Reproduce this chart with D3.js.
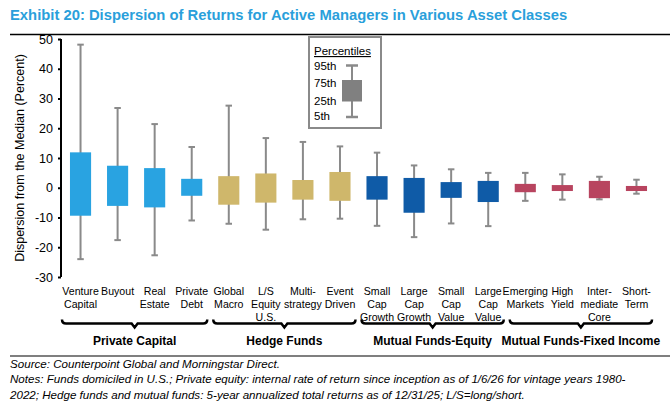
<!DOCTYPE html>
<html><head><meta charset="utf-8">
<script src="https://cdn.jsdelivr.net/npm/d3@7"></script>
<style>body{margin:0;background:#fff;font-family:"Liberation Sans",Arial,sans-serif}</style>
</head><body><svg id="c" width="670" height="402"></svg>
<script>
const categories = ["Venture Capital","Buyout","Real Estate","Private Debt","Global Macro","L/S Equity U.S.","Multi-strategy","Event Driven","Small Cap Growth","Large Cap Growth","Small Cap Value","Large Cap Value","Emerging Markets","High Yield","Intermediate Core","Short-Term"];
const labelLines = [["Venture","Capital"],["Buyout"],["Real","Estate"],["Private","Debt"],["Global","Macro"],["L/S","Equity","U.S."],["Multi-","strategy"],["Event","Driven"],["Small","Cap","Growth"],["Large","Cap","Growth"],["Small","Cap","Value"],["Large","Cap","Value"],["Emerging","Markets"],["High","Yield"],["Inter-","mediate","Core"],["Short-","Term"]];
const p95 = [48.1,26.8,21.4,13.7,27.6,16.7,15.4,13.9,11.8,7.5,6.2,5.0,5.0,4.5,3.7,2.7];
const p75 = [11.9,7.4,6.6,3.0,3.9,4.8,2.6,5.3,3.9,3.3,1.9,2.3,1.3,0.9,2.3,0.6];
const p25 = [-9.4,-6.1,-6.6,-2.7,-5.7,-5.0,-4.0,-4.4,-4.0,-8.4,-3.4,-4.8,-1.5,-1.1,-3.5,-1.1];
const p5  = [-24.0,-17.6,-22.7,-11.0,-12.1,-14.1,-10.6,-10.4,-12.8,-16.6,-12.0,-12.9,-4.4,-4.0,-3.9,-2.0];
const groups = ["Private Capital","Hedge Funds","Mutual Funds-Equity","Mutual Funds-Fixed Income"];
const groupOf = [0,0,0,0,1,1,1,1,2,2,2,2,3,3,3,3];
const groupColors = ["#29A3E1","#CFB76B","#0F5BA7","#B8445F"];
const yTicks = [-30,-20,-10,0,10,20,30,40,50];
const legendLabels = ["95th","75th","25th","5th"];

const svg = d3.select("#c");
const font = '"Liberation Sans",Arial,sans-serif';

// title
svg.append("text").attr("x",10).attr("y",20).attr("fill","#2A9FDB")
  .attr("font-family",font).attr("font-weight","bold").attr("font-size",14.8)
  .text("Exhibit 20: Dispersion of Returns for Active Managers in Various Asset Classes");
svg.append("line").attr("x1",10).attr("x2",670).attr("y1",34.5).attr("y2",34.5).attr("stroke","#000").attr("stroke-width",1.5);

const x = d3.scaleBand().domain(categories).range([62,655]).paddingInner(0.43).paddingOuter(0.215);
const y = d3.scaleLinear().domain([-30,50]).range([277,39]);

// y axis
const ax = svg.append("g").attr("transform","translate(61,0)")
  .call(d3.axisLeft(y).tickValues(yTicks).tickSize(3).tickPadding(5).tickFormat(d=>String(d)));
ax.select(".domain").attr("stroke","#000").attr("stroke-width",2).attr("d",`M0,${y(-30)}V${y(50)}`);
ax.selectAll(".tick line").attr("stroke","#000").attr("stroke-width",2);
ax.selectAll(".tick text").attr("font-family",font).attr("font-size",12.5).attr("fill","#000");

svg.append("text").attr("transform",`translate(24,${(y(-30)+y(50))/2}) rotate(-90)`)
  .attr("text-anchor","middle").attr("font-family",font).attr("font-size",12.5)
  .text("Dispersion from the Median (Percent)");

// boxes
const capW = 6.5;
const g = svg.append("g");
categories.forEach((c,i)=>{
  const cx = x(c)+x.bandwidth()/2;
  const wg = g.append("g");
  wg.append("line").attr("x1",cx).attr("x2",cx).attr("y1",y(p95[i])).attr("y2",y(p5[i])).attr("stroke","#8A8A8A").attr("stroke-width",2);
  [p95[i],p5[i]].forEach(v=>wg.append("line").attr("x1",cx-capW/2).attr("x2",cx+capW/2).attr("y1",y(v)).attr("y2",y(v)).attr("stroke","#8A8A8A").attr("stroke-width",2));
  wg.append("rect").attr("x",x(c)).attr("width",x.bandwidth()).attr("y",y(p75[i])).attr("height",y(p25[i])-y(p75[i])).attr("fill",groupColors[groupOf[i]]);
  const t = svg.append("text").attr("font-family",font).attr("font-size",10.6).attr("text-anchor","middle");
  labelLines[i].forEach((l,k)=>t.append("tspan").attr("x",cx).attr("y",295+k*12.8).text(l));
});

// brackets
groups.forEach((gname,gi)=>{
  const idx = categories.filter((c,i)=>groupOf[i]===gi);
  const step = x.step();
  const x0 = x(idx[0]) - x.paddingInner()*step/2 - (gi===0?3:0) + 3;
  const x1 = x(idx[idx.length-1]) + x.bandwidth() + x.paddingInner()*step/2 - 3;
  const yb = 323.5, mid=(x0+x1)/2;
  svg.append("path").attr("d",`M${x0},${yb-4}Q${x0},${yb} ${x0+4},${yb}H${mid-3}L${mid},${yb+4}L${mid+3},${yb}H${x1-4}Q${x1},${yb} ${x1},${yb-4}`)
    .attr("fill","none").attr("stroke","#000").attr("stroke-width",2.5);
  svg.append("text").attr("x",mid).attr("y",344.5).attr("text-anchor","middle").attr("font-family",font)
    .attr("font-weight","bold").attr("font-size",12).text(gname);
});

// legend
const lg = svg.append("g");
lg.append("rect").attr("x",309).attr("y",37).attr("width",72).attr("height",91).attr("fill","#fff").attr("stroke","#8A8A8A").attr("stroke-width",2);
lg.append("text").attr("x",314).attr("y",55).attr("font-family",font).attr("font-size",11.5).attr("text-decoration","underline").text("Percentiles");
const ly = [66,83,100.5,116];
legendLabels.forEach((l,k)=>lg.append("text").attr("x",314).attr("y",ly[k]+4).attr("font-family",font).attr("font-size",11.5).text(l));
lg.append("line").attr("x1",352).attr("x2",352).attr("y1",65.5).attr("y2",117).attr("stroke","#8A8A8A").attr("stroke-width",2);
[65.5,117].forEach(v=>lg.append("line").attr("x1",346).attr("x2",358).attr("y1",v).attr("y2",v).attr("stroke","#8A8A8A").attr("stroke-width",2.5));
lg.append("rect").attr("x",342).attr("y",80).attr("width",20).attr("height",21.5).attr("fill","#808080");

// notes
svg.append("line").attr("x1",10).attr("x2",670).attr("y1",356).attr("y2",356).attr("stroke","#000").attr("stroke-width",1.2);
const notes = ["Source: Counterpoint Global and Morningstar Direct.",
 "Notes: Funds domiciled in U.S.; Private equity: internal rate of return since inception as of 1/6/26 for vintage years 1980-",
 "2022; Hedge funds and mutual funds: 5-year annualized total returns as of 12/31/25; L/S=long/short."];
notes.forEach((n,k)=>svg.append("text").attr("x",10).attr("y",367.5+k*15.5).attr("font-family",font).attr("font-style","italic").attr("font-size",11.6).text(n));
</script></body></html>
